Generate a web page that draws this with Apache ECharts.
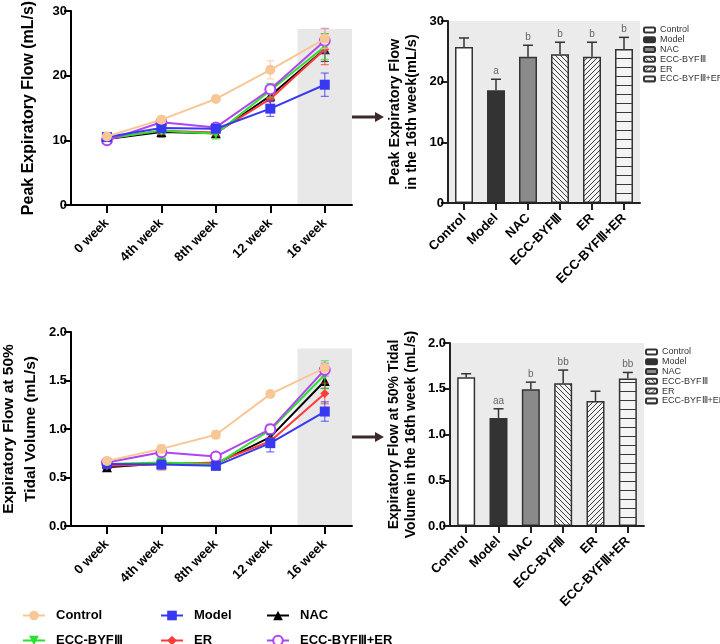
<!DOCTYPE html>
<html><head><meta charset="utf-8">
<script src="https://cdn.jsdelivr.net/npm/echarts@6/dist/echarts.min.js"></script>
<style>html,body{margin:0;padding:0;background:#fff}#c{width:720px;height:644px}</style>
</head><body><div id="c"></div><script>
// ---------- data ----------
const weeks = ['0 week', '4th week', '8th week', '12 week', '16 week'];
const groups = ['Control', 'Model', 'NAC', 'ECC-BYFⅢ', 'ER', 'ECC-BYFⅢ+ER'];

// Peak expiratory flow (mL/s), mean and SD per week
const pefControl = [10.6, 13.2, 16.4, 20.9, 25.7];
const pefModel   = [10.5, 11.9, 11.8, 14.9, 18.6];
const pefNAC     = [10.2, 11.3, 11.1, 16.9, 24.1];
const pefECC     = [10.3, 11.5, 11.0, 17.7, 24.5];
const pefER      = [10.3, 11.5, 11.2, 16.4, 24.1];
const pefECCER   = [10.0, 12.8, 12.0, 17.9, 25.4];
const pefControlSd = [0.3, 0.5, 0.3, 1.4, 1.5];
const pefModelSd   = [0.4, 0.5, 0.5, 1.2, 1.8];
const pefNACSd     = [0.3, 0.8, 0.6, 0.9, 1.9];
const pefECCSd     = [0.3, 0.5, 0.8, 1.1, 2.0];
const pefERSd      = [0.3, 0.6, 0.5, 1.0, 2.4];
const pefECCERSd   = [0.3, 0.5, 0.4, 0.6, 1.9];

// Expiratory flow at 50% tidal volume (mL/s)
const efControl = [0.67, 0.795, 0.94, 1.36, 1.63];
const efModel   = [0.64, 0.633, 0.62, 0.854, 1.18];
const efNAC     = [0.606, 0.644, 0.64, 0.916, 1.495];
const efECC     = [0.64, 0.654, 0.633, 0.99, 1.56];
const efER      = [0.62, 0.637, 0.654, 0.874, 1.367];
const efECCER   = [0.654, 0.76, 0.716, 0.998, 1.612];
const efControlSd = [0.03, 0.04, 0.04, 0.03, 0.037];
const efModelSd   = [0.03, 0.04, 0.02, 0.09, 0.10];
const efNACSd     = [0.02, 0.05, 0.03, 0.05, 0.077];
const efECCSd     = [0.02, 0.03, 0.02, 0.05, 0.143];
const efERSd      = [0.02, 0.06, 0.03, 0.04, 0.106];
const efECCERSd   = [0.02, 0.03, 0.02, 0.05, 0.066];

// 16th week bars
const pef16 = [25.7, 18.6, 24.1, 24.5, 24.1, 25.4];
const pef16Sd = [1.5, 1.8, 1.9, 2.0, 2.4, 1.9];
const pef16Sig = ['', 'a', 'b', 'b', 'b', 'b'];
const ef16 = [1.627, 1.181, 1.495, 1.561, 1.367, 1.612];
const ef16Sd = [0.037, 0.10, 0.077, 0.143, 0.106, 0.066];
const ef16Sig = ['', 'aa', 'b', 'bb', '', 'bb'];

const pefBandTop = 27.2;
const efBandTop = 1.83;

// ---------- styles ----------
const FONT = 'Liberation Sans, Arial, sans-serif';
const lineStyles = {
  'Control':     {color: '#F9C796', symbol: 'circle', size: 10},
  'Model':       {color: '#3838F2', symbol: 'rect', size: 10},
  'NAC':         {color: '#000000', symbol: 'triangle', size: 10},
  'ECC-BYFⅢ':    {color: '#2EE02E', symbol: 'path://M0,0 L10,0 L5,9 Z', size: 10},
  'ER':          {color: '#FF3A3A', symbol: 'diamond', size: 9},
  'ECC-BYFⅢ+ER': {color: '#B044F2', symbol: 'emptyCircle', size: 10}
};
const drawOrder = ['NAC', 'ER', 'ECC-BYFⅢ', 'ECC-BYFⅢ+ER', 'Model', 'Control'];

const pefData = {'Control': [pefControl, pefControlSd], 'Model': [pefModel, pefModelSd], 'NAC': [pefNAC, pefNACSd],
  'ECC-BYFⅢ': [pefECC, pefECCSd], 'ER': [pefER, pefERSd], 'ECC-BYFⅢ+ER': [pefECCER, pefECCERSd]};
const efData = {'Control': [efControl, efControlSd], 'Model': [efModel, efModelSd], 'NAC': [efNAC, efNACSd],
  'ECC-BYFⅢ': [efECC, efECCSd], 'ER': [efER, efERSd], 'ECC-BYFⅢ+ER': [efECCER, efECCERSd]};

function makePattern(kind) {
  const s = kind === 'h' ? 9 : 5;
  const c = document.createElement('canvas');
  c.width = s; c.height = s;
  const g = c.getContext('2d');
  g.fillStyle = '#f4f4f4'; g.fillRect(0, 0, s, s);
  g.strokeStyle = '#3a3a3a'; g.lineWidth = 1;
  g.beginPath();
  if (kind === 'bs') {
    g.moveTo(-1, -1); g.lineTo(s + 1, s + 1);
    g.moveTo(-1, s - 1); g.lineTo(1, s + 1);
    g.moveTo(s - 1, -1); g.lineTo(s + 1, 1);
  } else if (kind === 'fs') {
    g.moveTo(-1, s + 1); g.lineTo(s + 1, -1);
    g.moveTo(-1, 1); g.lineTo(1, -1);
    g.moveTo(s - 1, s + 1); g.lineTo(s + 1, s - 1);
  } else {
    g.moveTo(0, 4.5); g.lineTo(s, 4.5);
  }
  g.stroke();
  return {image: c, repeat: 'repeat'};
}
const barFills = ['#ffffff', '#333333', '#8a8a8a', makePattern('bs'), makePattern('fs'), makePattern('h')];

// ---------- axes ----------
const axisLineStyle = {color: '#000', width: 2};
const labelStyle = {color: '#000', fontWeight: 'bold', fontSize: 13, fontFamily: FONT};
const nameStyle = (size, lh) => ({color: '#000', fontWeight: 'bold', fontSize: size, fontFamily: FONT, lineHeight: lh});

const grids = [
  {left: 71, right: 368, top: 11, bottom: 439, outerBoundsMode: 'none'},
  {left: 448, right: 80, top: 21, bottom: 441, outerBoundsMode: 'none', show: true, backgroundColor: '#ebebeb', borderWidth: 0},
  {left: 71, right: 368, top: 332, bottom: 118, outerBoundsMode: 'none'},
  {left: 450, right: 76, top: 343, bottom: 118, outerBoundsMode: 'none', show: true, backgroundColor: '#ebebeb', borderWidth: 0}
];

function lineXAxis(gi) {
  return {
    type: 'value', gridIndex: gi, min: -0.66, max: 4.5, z: 5,
    axisLine: {show: true, onZero: false, lineStyle: axisLineStyle},
    axisTick: {show: true, customValues: [0, 1, 2, 3, 4], length: 8, lineStyle: {width: 2, color: '#000'}},
    axisLabel: Object.assign({customValues: [0, 1, 2, 3, 4], rotate: 45, margin: 16,
      formatter: v => weeks[Math.round(v)]}, labelStyle),
    splitLine: {show: false}
  };
}
function barXAxis(gi) {
  return {
    type: 'category', gridIndex: gi, data: groups, z: 5,
    axisLine: {show: true, onZero: false, lineStyle: {color: '#222', width: 2}},
    axisTick: {show: true, alignWithLabel: true, length: 7, lineStyle: {width: 2, color: '#222'}},
    axisLabel: Object.assign({rotate: 45, margin: 13, interval: 0}, labelStyle),
    splitLine: {show: false}
  };
}
function yAxis(gi, max, interval, name, gap, dec, col, ns) {
  return {
    type: 'value', gridIndex: gi, min: 0, max: max, interval: interval, z: 5,
    name: name, nameLocation: 'middle', nameGap: gap, nameTextStyle: ns,
    axisLine: {show: true, onZero: false, lineStyle: {color: col, width: 2}},
    axisTick: {show: true, length: 7, lineStyle: {width: 2, color: col}},
    axisLabel: Object.assign({margin: 4, formatter: v => dec ? v.toFixed(1) : String(v)}, labelStyle),
    splitLine: {show: false}
  };
}

// ---------- series ----------
const series = [];
function bandSeries(xi, top) {
  series.push({
    type: 'custom', xAxisIndex: xi, yAxisIndex: xi, z: 1, silent: true,
    data: [[3.5, 4.5, top]],
    renderItem: (p, api) => {
      const a = api.coord([api.value(0), api.value(2)]);
      const b = api.coord([api.value(1), 0]);
      return {type: 'rect', shape: {x: a[0], y: a[1], width: b[0] - a[0], height: b[1] - a[1]},
        style: {fill: '#e8e8e8'}};
    }
  });
}
function lineGroup(xi, dataMap) {
  drawOrder.forEach((g, k) => {
    const st = lineStyles[g];
    const [mean, sd] = dataMap[g];
    series.push({
      type: 'custom', xAxisIndex: xi, yAxisIndex: xi, z: 3 + k * 0.1, silent: true,
      data: mean.map((m, i) => [i, m - sd[i], m + sd[i]]),
      renderItem: (p, api) => {
        const lo = api.coord([api.value(0), api.value(1)]);
        const hi = api.coord([api.value(0), api.value(2)]);
        const w = 4;
        const s = {stroke: st.color, lineWidth: 1.2, opacity: 0.7};
        return {type: 'group', children: [
          {type: 'line', shape: {x1: lo[0], y1: lo[1], x2: hi[0], y2: hi[1]}, style: s},
          {type: 'line', shape: {x1: lo[0] - w, y1: lo[1], x2: lo[0] + w, y2: lo[1]}, style: s},
          {type: 'line', shape: {x1: hi[0] - w, y1: hi[1], x2: hi[0] + w, y2: hi[1]}, style: s}
        ]};
      }
    });
    series.push({
      type: 'line', name: g, xAxisIndex: xi, yAxisIndex: xi, z: 3.05 + k * 0.1,
      data: mean.map((m, i) => [i, m]),
      symbol: st.symbol, symbolSize: st.size, showSymbol: true,
      lineStyle: {color: st.color, width: 2},
      itemStyle: st.symbol === 'emptyCircle' ? {color: st.color, borderColor: st.color, borderWidth: 2} : {color: st.color},
      emphasis: {disabled: true}
    });
  });
}
function barGroup(xi, vals, sds, sig, tag) {
  groups.forEach((g, i) => {
    series.push({
      type: 'bar', name: g + tag, xAxisIndex: xi, yAxisIndex: xi, stack: 'b' + xi, barWidth: 18, z: 3,
      data: groups.map((_, j) => j === i ? vals[i] : '-'),
      itemStyle: {color: barFills[i], borderColor: '#333', borderWidth: 1.5},
      emphasis: {disabled: true}
    });
  });
  series.push({
    type: 'custom', xAxisIndex: xi, yAxisIndex: xi, z: 4, silent: true,
    data: vals.map((v, i) => [i, v, v + sds[i]]),
    renderItem: (p, api) => {
      const b = api.coord([api.value(0), api.value(1)]);
      const t = api.coord([api.value(0), api.value(2)]);
      const w = 5;
      const s = {stroke: '#333', lineWidth: 1.5};
      return {type: 'group', children: [
        {type: 'line', shape: {x1: b[0], y1: b[1], x2: t[0], y2: t[1]}, style: s},
        {type: 'line', shape: {x1: t[0] - w, y1: t[1], x2: t[0] + w, y2: t[1]}, style: s},
        {type: 'text', x: t[0], y: t[1] - 3, style: {text: sig[p.dataIndex], fill: '#666', fontSize: 10,
          fontFamily: FONT, align: 'center', verticalAlign: 'bottom'}}
      ]};
    }
  });
}

bandSeries(0, pefBandTop);
lineGroup(0, pefData);
barGroup(1, pef16, pef16Sd, pef16Sig, ' ');
bandSeries(2, efBandTop);
lineGroup(2, efData);
barGroup(3, ef16, ef16Sd, ef16Sig, '  ');

const lineLegend = (left, top, name) => ({
  orient: 'horizontal', left: left, top: top, padding: 0, itemWidth: 22, itemHeight: 12,
  data: [name], selectedMode: false,
  textStyle: {color: '#000', fontWeight: 'bold', fontSize: 13, fontFamily: FONT, padding: [0, 0, 0, 6]}
});
const barLegend = (left, top, tag) => ({
  orient: 'vertical', left: left, top: top, padding: 0, itemWidth: 11, itemHeight: 5, itemGap: 0,
  data: groups.map(g => g + tag), selectedMode: false,
  formatter: n => n.trim(),
  textStyle: {color: '#333', fontSize: 9, fontFamily: FONT, lineHeight: 9.8, padding: [0, 0, 0, 0]}
});

function arrow(x1, x2, y) {
  return {type: 'group', children: [
    {type: 'line', shape: {x1: x1, y1: y, x2: x2 - 7, y2: y}, style: {stroke: '#3a2a2a', lineWidth: 3}},
    {type: 'polygon', shape: {points: [[x2 - 9, y - 5], [x2, y], [x2 - 9, y + 5]]}, style: {fill: '#3a2a2a'}}
  ]};
}

const option = {
  animation: false,
  backgroundColor: '#fff',
  grid: grids,
  xAxis: [lineXAxis(0), barXAxis(1), lineXAxis(2), barXAxis(3)],
  yAxis: [
    yAxis(0, 30, 10, 'Peak Expiratory Flow (mL/s)', 32, false, '#000', nameStyle(16, 20)),
    yAxis(1, 30, 10, 'Peak Expiratory Flow\nin the 16th week(mL/s)', 28, false, '#222', nameStyle(14.5, 17)),
    yAxis(2, 2, 0.5, 'Expiratory Flow at 50%\nTidal Volume (mL/s)', 30, true, '#000', nameStyle(15.5, 21.5)),
    yAxis(3, 2, 0.5, 'Expiratory Flow at 50% Tidal\nVolume in the 16th week (mL/s)', 30, true, '#222', nameStyle(14, 17))
  ],
  legend: [
    lineLegend(22, 609, 'Control'),
    lineLegend(160, 609, 'Model'),
    lineLegend(266, 609, 'NAC'),
    lineLegend(22, 634, 'ECC-BYFⅢ'),
    lineLegend(160, 634, 'ER'),
    lineLegend(266, 634, 'ECC-BYFⅢ+ER'),
    barLegend(643, 25, ' '),
    barLegend(645, 347, '  ')
  ],
  graphic: [arrow(346, 384, 117), arrow(344, 384, 437)],
  series: series
};
const chart = echarts.init(document.getElementById('c'), null, {renderer: 'canvas'});
chart.setOption(option);
</script></body></html>
